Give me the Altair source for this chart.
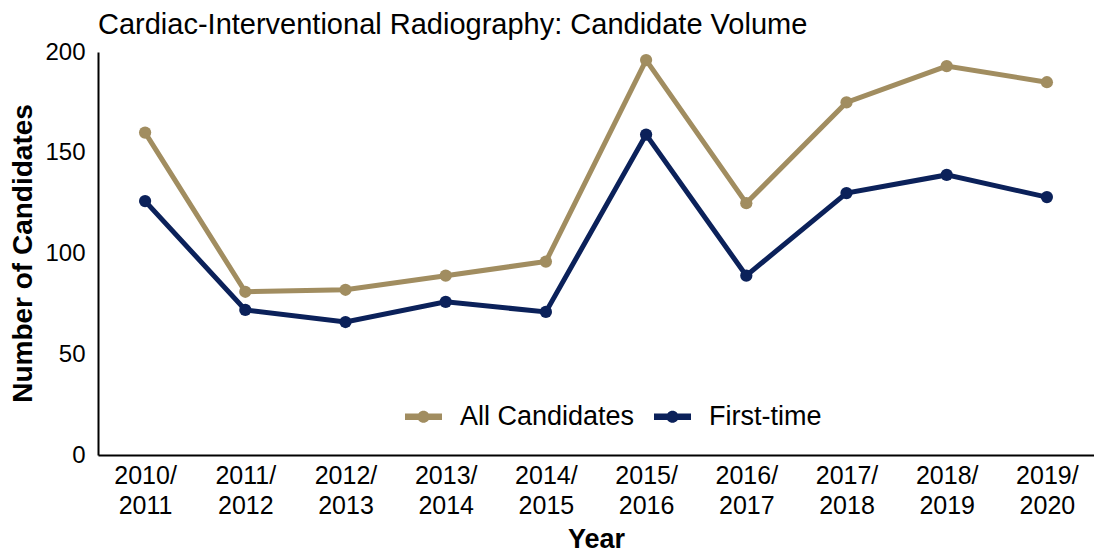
import altair as alt
import pandas as pd

years = ["2010/2011", "2011/2012", "2012/2013", "2013/2014", "2014/2015",
         "2015/2016", "2016/2017", "2017/2018", "2018/2019", "2019/2020"]
all_candidates = [160, 81, 82, 89, 96, 196, 125, 175, 193, 185]
first_time = [126, 72, 66, 76, 71, 159, 89, 130, 139, 128]
series = ["All Candidates", "First-time"]
colors = ["#A18D60", "#0B215A"]

rows = []
for y, a, f in zip(years, all_candidates, first_time):
    rows.append({"Year": y, "Series": series[0], "Value": a})
    rows.append({"Year": y, "Series": series[1], "Value": f})
df = pd.DataFrame(rows)

FONT = "Liberation Sans"
sym = ("M-1,-0.17 L1,-0.17 L1,0.17 L-1,0.17 Z "
       "M0.33,0 A0.33,0.33 0 1,1 -0.33,0 A0.33,0.33 0 1,1 0.33,0 Z")

legend = alt.Legend(
    title=None, orient="none", direction="horizontal",
    legendX=307, legendY=346,
    symbolType=sym, symbolSize=1369, symbolStrokeWidth=0,
    labelFont=FONT, labelFontSize=27, labelColor="black", labelLimit=500,
    labelOffset=18, columnPadding=19,
)

color = alt.Color("Series:N", scale=alt.Scale(domain=series, range=colors),
                  legend=legend)

x = alt.X("Year:N", sort=years,
          scale=alt.Scale(type="point", padding=0.47),
          axis=alt.Axis(title="Year", labelAngle=0, ticks=False,
                        labelExpr="[slice(datum.label,0,5), slice(datum.label,5)]",
                        labelFont=FONT, labelFontSize=25, labelColor="black",
                        labelLineHeight=30, labelPadding=8,
                        titleFont=FONT, titleFontSize=27, titleFontWeight="bold",
                        titleColor="black", titleX=498, titleY=84,
                        titleBaseline="middle",
                        domainColor="black", domainWidth=2, grid=False))
y = alt.Y("Value:Q", scale=alt.Scale(domain=[0, 200]),
          axis=alt.Axis(title="Number of Candidates", values=[0, 50, 100, 150, 200],
                        ticks=False, labelFont=FONT, labelFontSize=24,
                        labelColor="black", labelPadding=13,
                        titleFont=FONT, titleFontSize=28, titleFontWeight="bold",
                        titleColor="black", titleX=-75, titleY=201,
                        titleBaseline="middle", titleAngle=-90,
                        domainColor="black", domainWidth=2, grid=False))

base = alt.Chart(df)
lines = base.mark_line(strokeWidth=5).encode(x=x, y=y, color=color)
points = base.mark_point(filled=True, size=150, opacity=1).encode(x=x, y=y, color=color)

chart = (lines + points).properties(
    width=996, height=403,
    autosize=alt.AutoSizeParams(type="none"),
    padding={"left": 90, "top": 44, "right": 0, "bottom": 98},
    title=alt.TitleParams(
        "Cardiac-Interventional Radiography: Candidate Volume",
        anchor="start", frame="group", font=FONT, fontSize=29,
        fontWeight="normal", color="black", offset=0),
).configure_view(stroke=None)

chart.save("out.html", embed_options={"renderer": "svg", "actions": False})
